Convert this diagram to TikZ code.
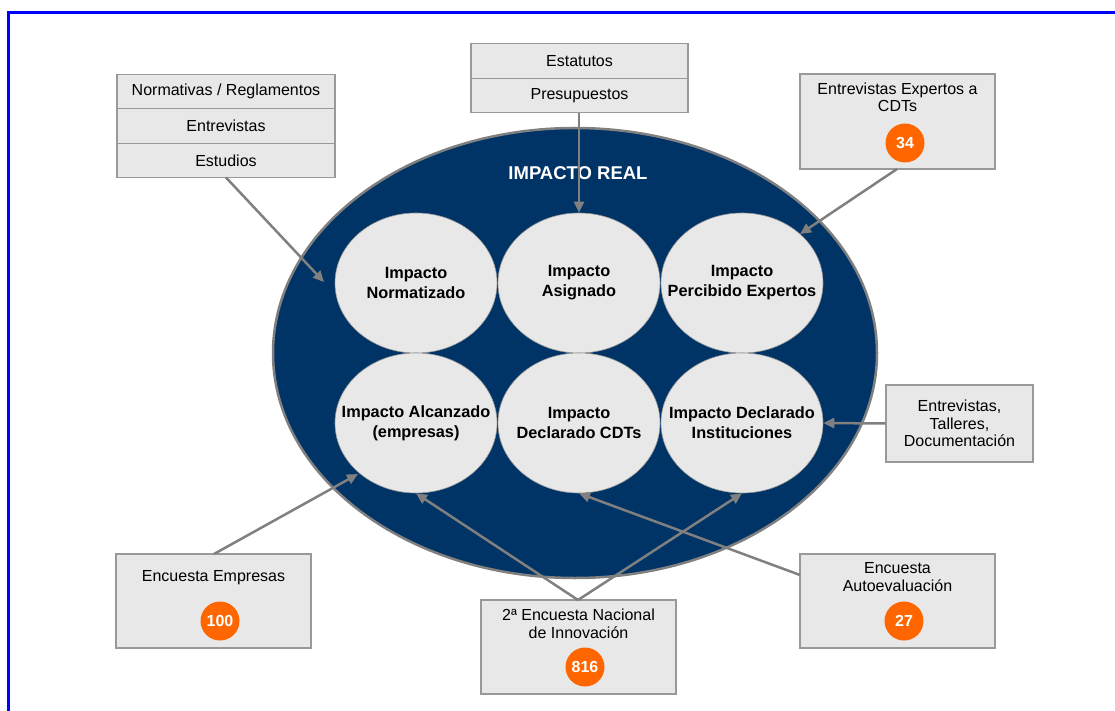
\documentclass[tikz,border=0pt]{standalone}
\usepackage{fontspec}
\setmainfont{Liberation Sans}
\usetikzlibrary{arrows.meta,shapes.geometric}
\definecolor{navy}{RGB}{0,51,102}
\definecolor{boxfill}{RGB}{232,232,232}
\definecolor{boxline}{RGB}{153,153,153}
\definecolor{linegray}{RGB}{128,128,128}
\definecolor{orng}{RGB}{255,102,0}
\tikzset{
  box/.style={draw=boxline, fill=boxfill, line width=1.2pt, inner sep=0pt},
  txt/.style={align=center, inner sep=0pt, font=\fontsize{16}{17.5}\selectfont},
  imp/.style={ellipse, draw=linegray!80, fill=boxfill, line width=0.6pt, minimum width=162pt, minimum height=140pt, inner sep=0pt},
  imptxt/.style={align=center, inner sep=0pt, font=\fontsize{16.3}{20}\selectfont\bfseries},
  num/.style={circle, fill=orng, minimum size=39pt, inner sep=0pt, text=white, font=\fontsize{16}{18}\selectfont\bfseries},
  arr/.style={draw=linegray, line width=2.5pt, -{Triangle[length=11pt,width=10pt]}}
}
\begin{document}
\begin{tikzpicture}[x=1pt,y=-1pt]
\useasboundingbox (0,0) rectangle (1115,711);
\fill[white] (0,0) rectangle (1115,711);
\draw[blue, line width=3pt] (1115,13) -- (8,13) -- (8,711);

% big ellipse
\node[ellipse, fill=navy, draw=linegray, line width=2.5pt, minimum width=604pt, minimum height=450pt, inner sep=0pt] (real) at (575,353) {};
\node[text=white, font=\fontsize{18.5}{20}\selectfont\bfseries, inner sep=0pt] (realt) at (578,173) {IMPACTO REAL};

% impact ellipses
\node[imp] (norm) at (416,283) {};
\node[imp] (asig) at (579,283) {};
\node[imp] (perc) at (742,283) {};
\node[imp] (alc)  at (416,423) {};
\node[imp] (decl) at (579,423) {};
\node[imp] (inst) at (742,423) {};
\node[imptxt] (normt) at (norm) {Impacto\\Normatizado};
\node[imptxt] (asigt) at (asig) {Impacto\\Asignado};
\node[imptxt] (perct) at (742,283) {Impacto\\Percibido Expertos};
\node[imptxt] (alct)  at (alc) {Impacto Alcanzado\\(empresas)};
\node[imptxt] (declt) at (decl) {Impacto\\Declarado CDTs};
\node[imptxt] (instt) at (inst) {Impacto Declarado\\Instituciones};

% stacked boxes left
\node[box, txt, minimum width=218pt, minimum height=34.5pt] (normas) at (226,91.5) {Normativas / Reglamentos};
\node[box, txt, minimum width=218pt, minimum height=34.5pt] (entrev) at (226,126) {Entrevistas};
\node[box, txt, minimum width=218pt, minimum height=34.5pt] (estud) at (226,160.5) {Estudios};

% stacked boxes top
\node[box, txt, minimum width=217pt, minimum height=34.5pt] (estat) at (579.5,61) {Estatutos};
\node[box, txt, minimum width=217pt, minimum height=34.5pt] (presu) at (579.5,95.5) {Presupuestos};

% expertos box
\node[box, minimum width=195pt, minimum height=95pt] (expb) at (897.5,121.5) {};
\node[txt] (expt) at (897.5,97.5) {Entrevistas Expertos a\\CDTs};
\node[num] (n34) at (905,143) {34};

% talleres box
\node[box, txt, minimum width=147pt, minimum height=77pt] (tall) at (959.5,423.5) {Entrevistas,\\Talleres,\\Documentación};

% autoevaluacion box
\node[box, minimum width=195pt, minimum height=94pt] (autob) at (897.5,601) {};
\node[txt] (autot) at (897.5,577) {Encuesta\\Autoevaluación};
\node[num] (n27) at (904,621) {27};

% empresas box
\node[box, minimum width=195pt, minimum height=94pt] (empb) at (213.5,601) {};
\node[txt] (empt) at (213.5,578) {Encuesta Empresas};
\node[num] (n100) at (220,621) {100};

% encuesta nacional box
\node[box, minimum width=195pt, minimum height=94pt] (nacb) at (578.5,647) {};
\node[txt] (nact) at (578.5,624) {2ª Encuesta Nacional\\de Innovación};
\node[num] (n816) at (585,667) {816};

% connector endpoints
\coordinate (s1) at (226,177.5);
\coordinate (t1) at (324,282);
\coordinate (s3) at (897,169);
\coordinate (t3) at (800,234);
\coordinate (s5) at (214,554);
\coordinate (t5) at (358,474);
\coordinate (s6) at (578,600);
\coordinate (s8) at (800,575);

\draw[arr] (s1) -- (t1);
\draw[arr] (presu.south -| asig.north) -- (asig.north);
\draw[arr] (s3) -- (t3);
\draw[arr] (tall.west) -- (inst.east);
\draw[arr] (s5) -- (t5);
\draw[arr] (s6) -- (alc.south);
\draw[arr] (s6) -- (inst.south);
\draw[arr] (s8) -- (decl.south);
\end{tikzpicture}
\end{document}
